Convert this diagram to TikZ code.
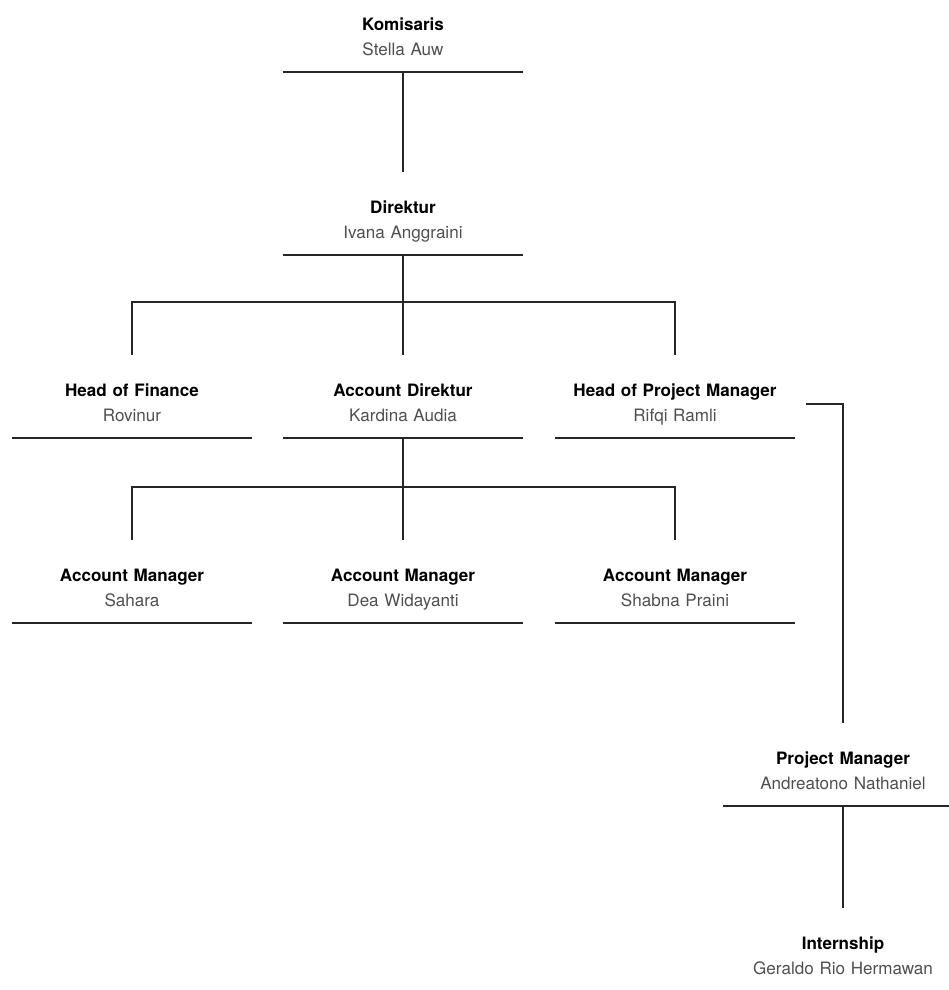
\documentclass[tikz,border=0pt]{standalone}
\usepackage{fontspec}
\setmainfont{TeX Gyre Heros}
\usepackage{xcolor}
\usetikzlibrary{calc}
\definecolor{abu}{HTML}{4F4F4F}
\definecolor{garis}{HTML}{262626}

\begin{document}
\begin{tikzpicture}[x=0.75pt,y=-0.75pt,
        jabatan/.style={anchor=base, inner sep=0pt, text width=180pt, align=center,
            text height=30.75pt, text depth=31.5pt,
            font=\fontsize{12.8}{19}\selectfont},
        hubung/.style={draw=garis, line width=1.3pt}]
            \useasboundingbox (0,0) rectangle (949,990);

            \foreach \id/\x/\y/\jab/\org in {kom/403/30/Komisaris/Stella Auw,
                    dir/403/213/Direktur/Ivana Anggraini,
                    fin/132/396/Head of Finance/Rovinur,
                    acd/403/396/Account Direktur/Kardina Audia,
                    hpm/675/396/Head of Project Manager/Rifqi Ramli,
                    am1/132/581/Account Manager/Sahara,
                    am2/403/581/Account Manager/Dea Widayanti,
                    am3/675/581/Account Manager/Shabna Praini,
                    pm/843/764/Project Manager/Andreatono Nathaniel,
                    int/843/949/Internship/Geraldo Rio Hermawan} {
                \node[jabatan] (\id) at (\x,\y) {\textbf{\jab}\\\textcolor{abu}{\org}};
            }
            \foreach \id in {kom,dir,fin,acd,hpm,am1,am2,am3,pm} {
                \draw[hubung] (\id.south west) -- (\id.south east);
            }

            \draw[hubung] (kom.south) -- (dir.north);
            \coordinate (bar1) at ($(dir.south)+(0,47)$);
            \draw[hubung] (dir.south) -- (bar1);
            \foreach \id in {fin,acd,hpm} {
                \draw[hubung] (bar1) -| (\id.north);
            }
            \coordinate (bar2) at ($(acd.south)+(0,49)$);
            \draw[hubung] (acd.south) -- (bar2);
            \foreach \id in {am1,am2,am3} {
                \draw[hubung] (bar2) -| (\id.north);
            }
            \coordinate (belok) at ($(hpm.east)+(11,7.5)$);
            \draw[hubung] (belok) -| (pm.north);
            \draw[hubung] (pm.south) -- (int.north);
        \end{tikzpicture}
\end{document}
